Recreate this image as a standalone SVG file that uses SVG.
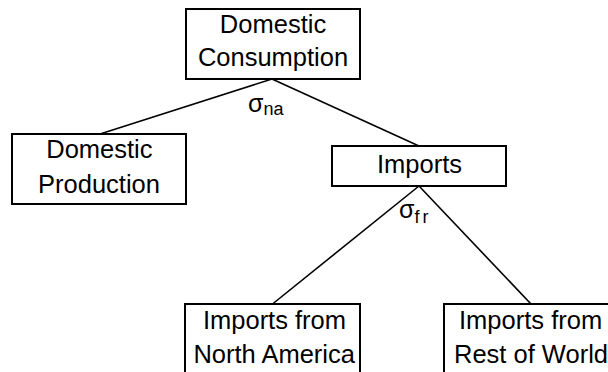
<svg xmlns="http://www.w3.org/2000/svg" width="608" height="372" viewBox="0 0 608 372">
<style>
.box{fill:#fff;stroke:#000;stroke-width:2}
.t{font-family:"Liberation Sans",Arial,sans-serif;font-size:25.5px;fill:#000;text-anchor:middle}
.s{font-family:"Liberation Sans",Arial,sans-serif;font-size:25px;fill:#000}
.sub{font-size:18px}
.c{stroke:#000;stroke-width:1.6;fill:none}
</style>
<rect width="608" height="372" fill="#fff"/>
<g id="connectors">
<line class="c" x1="272" y1="79" x2="100" y2="134"/>
<line class="c" x1="272" y1="79" x2="419" y2="146"/>
<line class="c" x1="419" y1="186" x2="272.5" y2="304"/>
<line class="c" x1="419" y1="186" x2="531" y2="304"/>
</g>
<g id="domestic-consumption">
<rect class="box" x="186" y="9" width="174" height="70"/>
<text class="t" x="273" y="33.3">Domestic</text>
<text class="t" x="273" y="66">Consumption</text>
</g>
<g id="sigma-na">
<text class="s" x="248" y="111.7">σ<tspan class="sub" dy="3.3">na</tspan></text>
</g>
<g id="domestic-production">
<rect class="box" x="12" y="134" width="174" height="70"/>
<text class="t" x="99.4" y="158">Domestic</text>
<text class="t" x="99" y="192.7">Production</text>
</g>
<g id="imports">
<rect class="box" x="332" y="146" width="174" height="40"/>
<text class="t" x="419.5" y="172.7">Imports</text>
</g>
<g id="sigma-fr">
<text class="s" x="399" y="218">σ<tspan class="sub" dy="4.7" letter-spacing="3">fr</tspan></text>
</g>
<g id="imports-na">
<rect class="box" x="185" y="304" width="175" height="80"/>
<text class="t" x="274.5" y="329.3">Imports from</text>
<text class="t" x="274.2" y="363.3">North America</text>
</g>
<g id="imports-row">
<rect class="box" x="444" y="304" width="174" height="80"/>
<text class="t" x="530.6" y="329.3">Imports from</text>
<text class="t" x="531" y="363.3">Rest of World</text>
</g>
</svg>
